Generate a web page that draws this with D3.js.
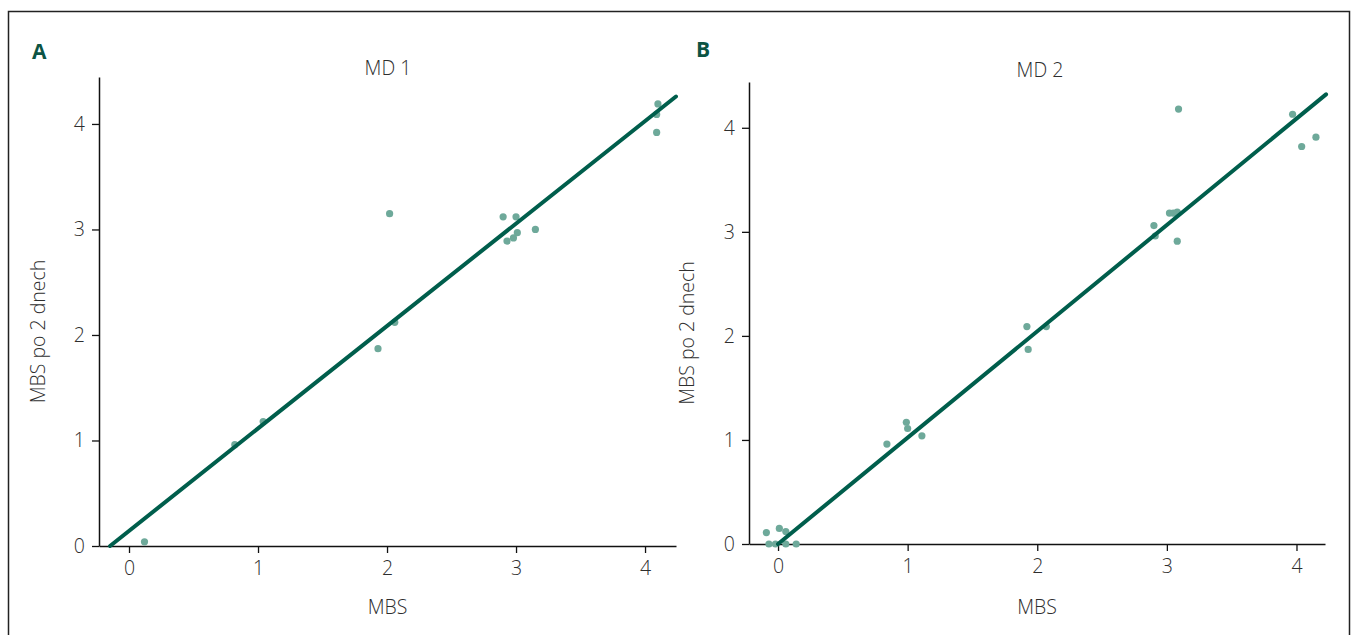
<!DOCTYPE html>
<html>
<head>
<meta charset="utf-8">
<script src="https://cdn.jsdelivr.net/npm/d3@7"></script>
<style>
  body { margin: 0; background: #fff; }
  svg text { font-family: "Open Sans", "Noto Sans", sans-serif; }
</style>
</head>
<body>
<svg id="chart" width="1354" height="635"></svg>
<script>
// MD 1 scatter: MBS vs. MBS after 2 days
const md1X = [0.12, 0.82, 1.04, 1.93, 2.06, 2.02, 2.90, 3.00, 3.01, 2.98, 2.93, 3.15, 4.10, 4.09, 4.09];
const md1Y = [0.04, 0.96, 1.18, 1.87, 2.12, 3.15, 3.12, 3.12, 2.97, 2.92, 2.89, 3.00, 4.19, 4.09, 3.92];
// MD 2 scatter
const md2X = [-0.09, -0.07, -0.02, 0.01, 0.06, 0.06, 0.14, 0.84, 0.99, 1.00, 1.11, 1.92, 1.93, 2.07, 2.90, 2.91, 3.02, 3.05, 3.08, 3.08, 3.09, 3.97, 4.04, 4.15];
const md2Y = [0.11, 0.00, 0.00, 0.15, 0.12, 0.00, 0.00, 0.96, 1.17, 1.11, 1.04, 2.09, 1.87, 2.09, 3.06, 2.96, 3.18, 3.18, 3.19, 2.91, 4.18, 4.13, 3.82, 3.91];
// fitted lines: [x start, x end], slope, intercept
const md1Fit = { x: [-0.147, 4.24], slope: 0.971, intercept: 0.143 };
const md2Fit = { x: [0.0, 4.228], slope: 1.022, intercept: 0.0 };
const tickValues = [0, 1, 2, 3, 4];
const panelLetters = ["A", "B"];
const panelTitles = ["MD 1", "MD 2"];
const xTitle = "MBS";
const yTitle = "MBS po 2 dnech";

const svg = d3.select("#chart");
const pointColor = "#6ea99a";
const lineColor = "#005e4c";
const letterColor = "#0c5444";
const textColor = "#2e2e2e";
const fontSize = 19.5;

// outer frame (open at the bottom)
svg.append("path")
  .attr("d", "M8.5,640 L8.5,11.5 L1349.5,11.5 L1349.5,640")
  .attr("fill", "none").attr("stroke", "#222").attr("stroke-width", 1.5);

const panels = [
  { xs: md1X, ys: md1Y, fit: md1Fit, xRange: [99, 676], xDom: [-0.2326, 4.240], yRange: [546, 77], yDom: [0, 4.445],
    letterPos: [32, 59], titleX: 388, titleY: 75, xTitleY: 614, yTitleX: 45 },
  { xs: md2X, ys: md2Y, fit: md2Fit, xRange: [749, 1325], xDom: [-0.224, 4.220], yRange: [544, 82], yDom: [0, 4.44],
    letterPos: [696, 57], titleX: 1040, titleY: 77, xTitleY: 614, yTitleX: 694 }
];

panels.forEach((p, i) => {
  const x = d3.scaleLinear().domain(p.xDom).range(p.xRange);
  const y = d3.scaleLinear().domain(p.yDom).range(p.yRange);
  const g = svg.append("g");

  // axes
  const xAxis = d3.axisBottom(x).tickValues(tickValues).tickSize(7).tickSizeOuter(0).tickPadding(8).tickFormat(d3.format("d"));
  const yAxis = d3.axisLeft(y).tickValues(tickValues).tickSize(7).tickSizeOuter(0).tickPadding(7).tickFormat(d3.format("d"));
  const gx = g.append("g").attr("transform", `translate(0,${p.yRange[0]})`).call(xAxis);
  const gy = g.append("g").attr("transform", `translate(${p.xRange[0]},0)`).call(yAxis);
  [gx, gy].forEach(a => {
    a.select(".domain").attr("stroke", "#111").attr("stroke-width", 1.5);
    a.selectAll(".tick line").attr("stroke", "#111").attr("stroke-width", 1.3);
    a.selectAll(".tick text").attr("fill", textColor).attr("font-size", fontSize).attr("font-weight", 300)
      .style("font-family", '"Open Sans", sans-serif');
  });

  // points
  g.append("g").selectAll("circle")
    .data(p.xs.map((v, k) => [v, p.ys[k]]))
    .join("circle")
    .attr("cx", d => x(d[0])).attr("cy", d => y(d[1]))
    .attr("r", 3.6).attr("fill", pointColor);

  // fitted line
  const fx = p.fit.x;
  g.append("line")
    .attr("x1", x(fx[0])).attr("y1", y(p.fit.intercept + p.fit.slope * fx[0]))
    .attr("x2", x(fx[1])).attr("y2", y(p.fit.intercept + p.fit.slope * fx[1]))
    .attr("stroke", lineColor).attr("stroke-width", 4).attr("stroke-linecap", "round");

  // labels
  g.append("text").attr("x", p.letterPos[0]).attr("y", p.letterPos[1])
    .attr("fill", letterColor).attr("font-size", 21).attr("font-weight", 700).text(panelLetters[i]);
  g.append("text").attr("x", p.titleX).attr("y", p.titleY).attr("text-anchor", "middle")
    .attr("fill", textColor).attr("font-size", fontSize).attr("font-weight", 300).text(panelTitles[i]);
  g.append("text").attr("x", (p.xRange[0] + p.xRange[1]) / 2).attr("y", p.xTitleY).attr("text-anchor", "middle")
    .attr("fill", textColor).attr("font-size", fontSize).attr("font-weight", 300).text(xTitle);
  g.append("text").attr("transform", `translate(${p.yTitleX},${(p.yRange[0] + p.yRange[1]) / 2 + 20}) rotate(-90)`)
    .attr("text-anchor", "middle")
    .attr("fill", textColor).attr("font-size", fontSize).attr("font-weight", 300).text(yTitle);
});
</script>
</body>
</html>
